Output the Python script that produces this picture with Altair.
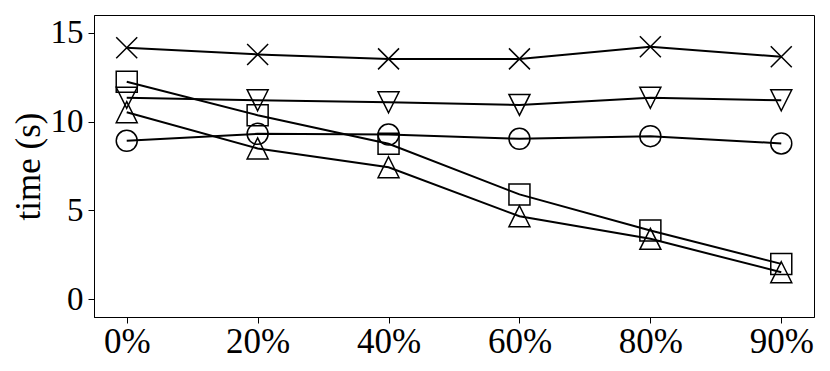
import json
import altair as alt
import pandas as pd

x_labels = ["0%", "20%", "40%", "60%", "80%", "90%"]
cross = [14.16, 13.78, 13.53, 13.53, 14.21, 13.65]
tri_down = [11.34, 11.20, 11.09, 10.94, 11.34, 11.20]
circle = [8.92, 9.31, 9.27, 9.03, 9.18, 8.77]
square = [12.24, 10.36, 8.75, 5.90, 3.87, 1.99]
tri_up = [10.53, 8.49, 7.43, 4.67, 3.40, 1.52]

series = {
    "cross": cross,
    "tri_down": tri_down,
    "circle": circle,
    "square": square,
    "tri_up": tri_up,
}
shapes = {
    "cross": "M-1,-1L1,1M-1,1L1,-1",
    "tri_down": "M0,1L1,-1L-1,-1Z",
    "circle": "circle",
    "square": "M-1,-1L1,-1L1,1L-1,1Z",
    "tri_up": "M0,-1L1,1L-1,1Z",
}

rows = []
for name, vals in series.items():
    for i, v in enumerate(vals):
        rows.append({"series": name, "idx": i, "time": v})
df = pd.DataFrame(rows)

label_expr = json.dumps(x_labels) + "[datum.value]"
FONT = "Liberation Serif"

x = alt.X(
    "idx:Q",
    scale=alt.Scale(domain=[-0.25, 5.25], nice=False, zero=False),
    axis=alt.Axis(values=list(range(len(x_labels))), labelExpr=label_expr,
                  title=None, labelPadding=1, labelFont=FONT, labelFontSize=35),
)
y = alt.Y(
    "time:Q",
    scale=alt.Scale(domain=[-1, 16], nice=False, zero=False),
    axis=alt.Axis(values=[0, 5, 10, 15], title="time (s)", labelPadding=5,
                  labelFont=FONT, labelFontSize=33,
                  titleFont=FONT, titleFontSize=35, titleFontWeight="normal",
                  titleAngle=-90, titleX=-66, titleY=151,
                  titleBaseline="middle", titleAlign="center"),
)

names = list(series.keys())
base = alt.Chart(df)
lines = base.mark_line(color="black", strokeWidth=2).encode(
    x=x, y=y, detail="series:N"
)
points = base.mark_point(filled=False, color="black", strokeWidth=1.5,
                         size=441, opacity=1).encode(
    x=x, y=y,
    shape=alt.Shape("series:N",
                    scale=alt.Scale(domain=names, range=[shapes[n] for n in names]),
                    legend=None),
)

chart = alt.layer(lines, points).properties(
    width=720, height=302,
    autosize=alt.AutoSizeParams(type="none"),
    padding={"left": 86, "top": 7, "right": 8, "bottom": 46},
).configure(
    font=FONT
).configure_view(
    stroke="black", strokeWidth=1
).configure_axis(
    labelColor="black", titleColor="black",
    tickColor="black", tickSize=6, tickWidth=1,
    domainColor="black", domainWidth=1, grid=False,
)

chart.save("out.html", embed_options={"renderer": "svg", "actions": False})
